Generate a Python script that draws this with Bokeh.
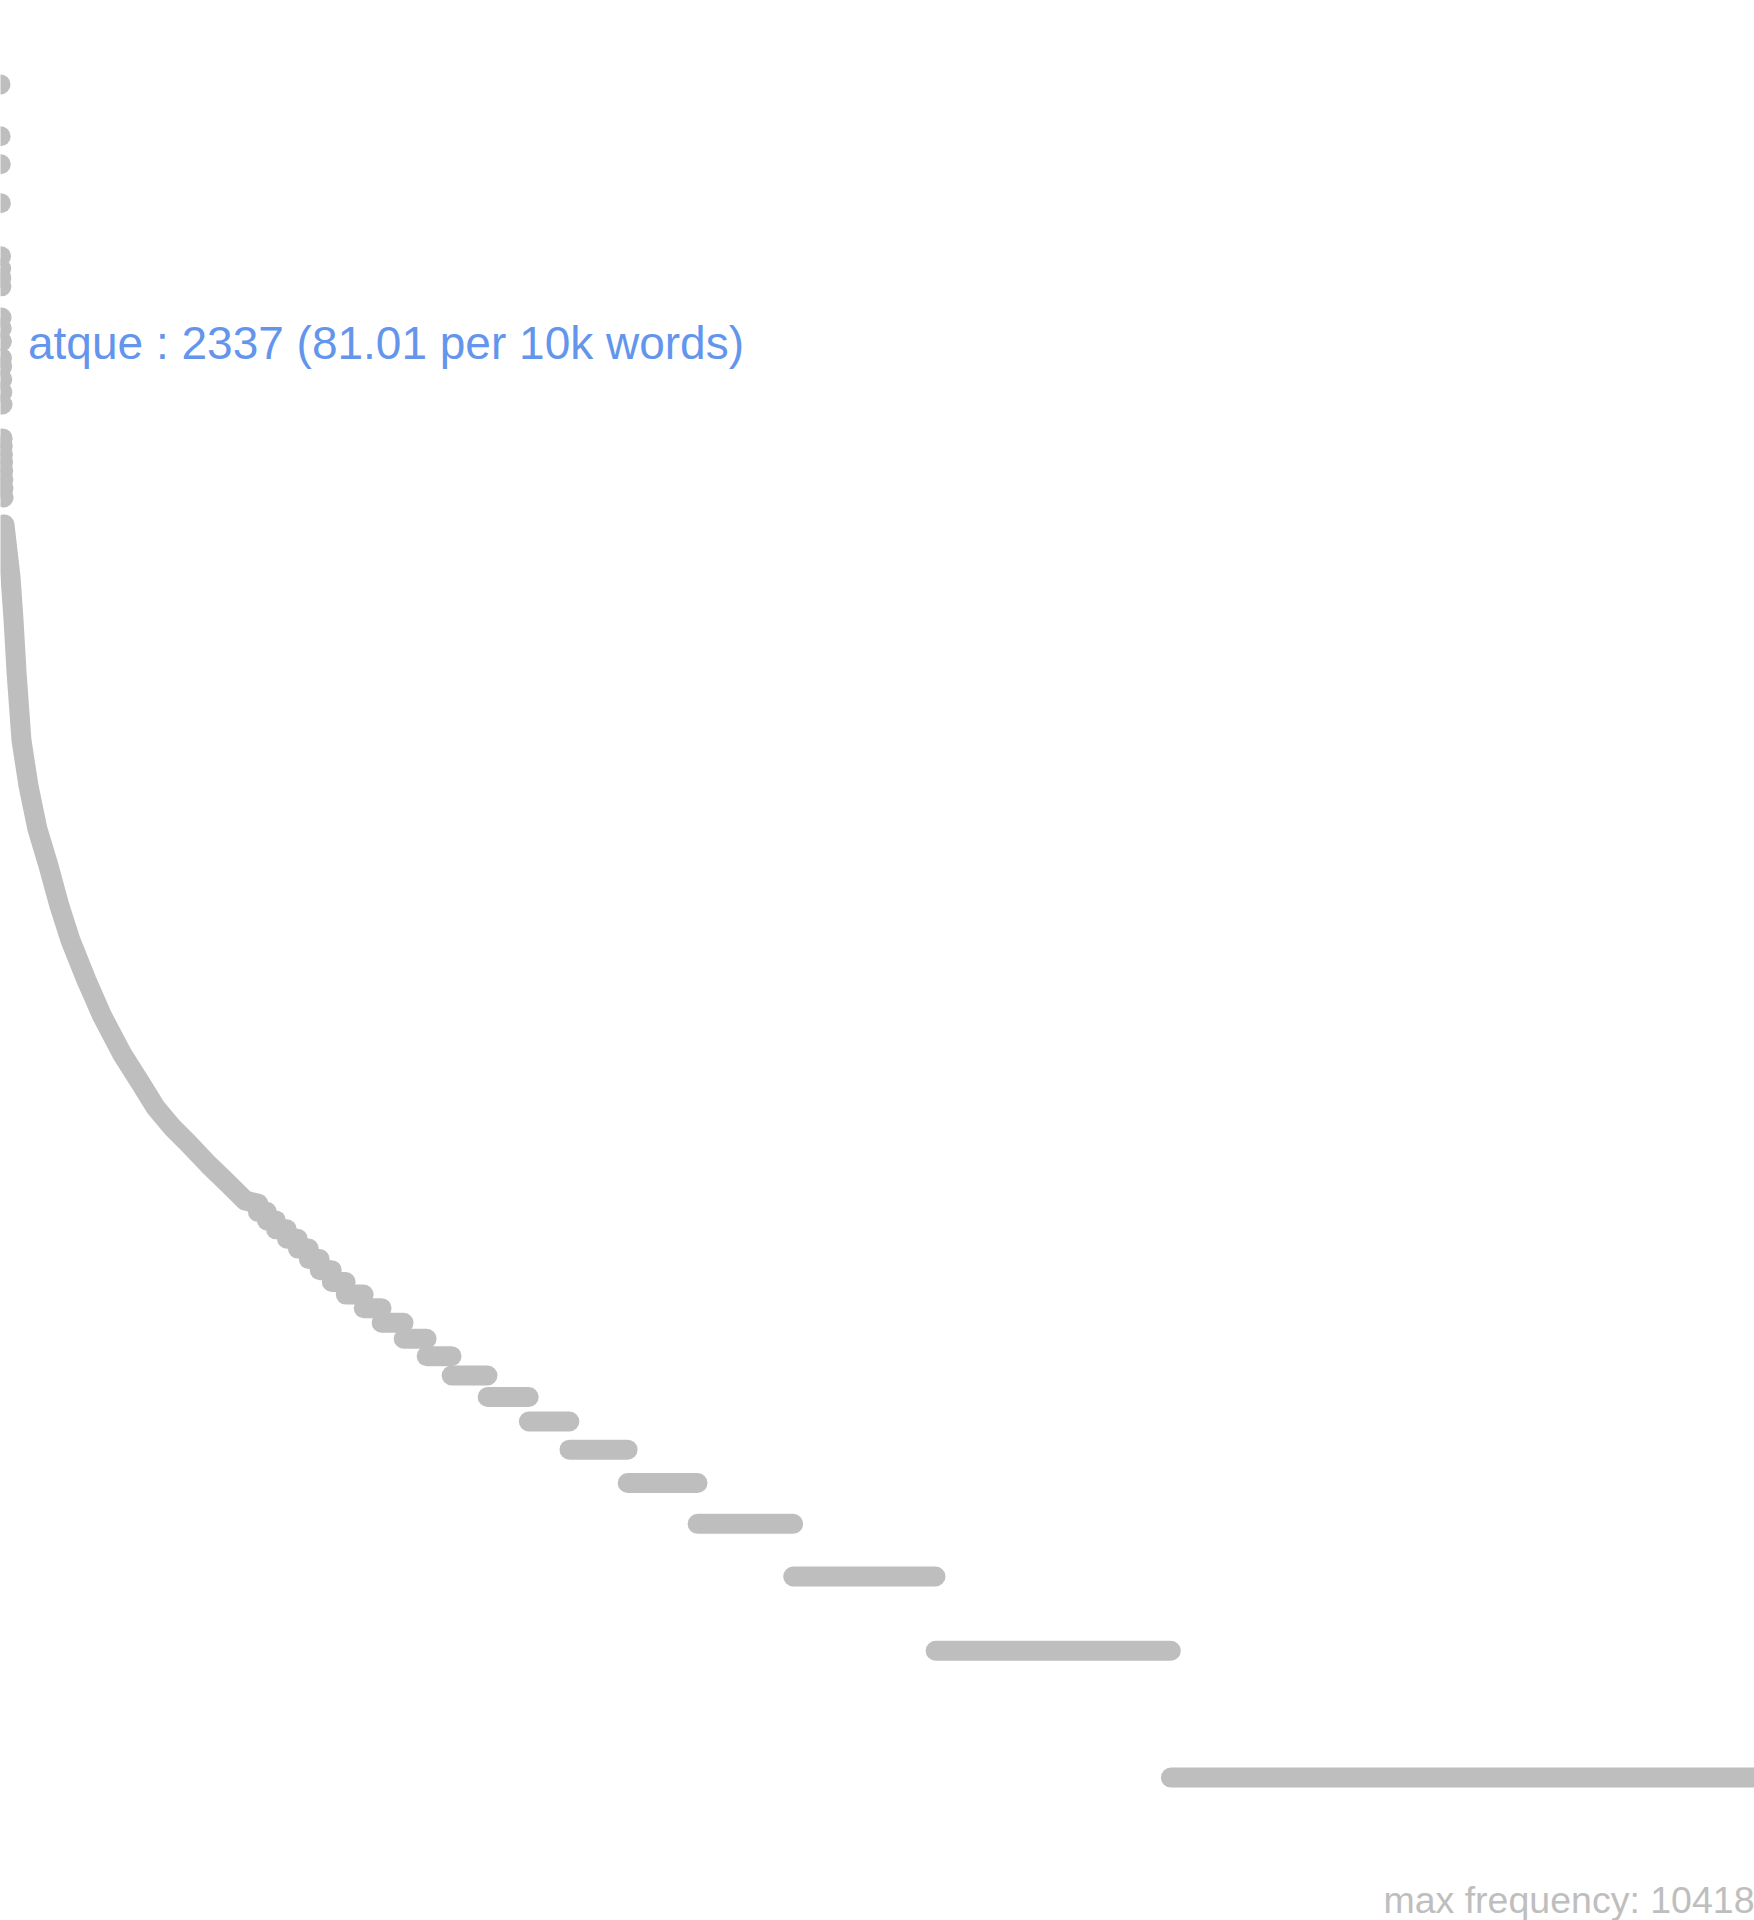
from bokeh.plotting import figure
from bokeh.models import Range1d
from bokeh.embed import file_html
from bokeh.resources import INLINE
from bokeh.core.properties import value

# ---------------- data ----------------
total_types = 12812          # number of distinct words (ranks)
max_frequency = 10418

# most frequent words, rank 1..24
top_freqs = [10418, 7847, 6735, 5443, 4075, 3810, 3620, 3457,
             2916, 2750, 2560, 2337, 2230, 2080, 1940, 1813,
             1506, 1445, 1380, 1320, 1262, 1205, 1148, 1091]

# dense part of the rank/frequency curve
curve_ranks = [30, 74, 96, 118, 154, 205, 271, 351, 432, 512, 629, 745,
               891, 1023, 1132, 1256, 1373, 1519, 1657, 1789, 1884]
curve_freqs = [941, 708, 560, 420, 290, 226, 178, 146, 117, 97, 78, 64,
               52, 44.5, 39, 34.9, 32, 28.5, 25.8, 23.4, 23]

# frequency spectrum of the rare words: frequency -> number of words
spectrum_freq = [22, 21, 20, 19, 18, 17, 16, 15, 14, 13, 12, 11,
                 10, 9, 8, 7, 6, 5, 4, 3, 2, 1]
spectrum_count = [66, 66, 80, 80, 80, 80, 88, 102, 131, 131, 161, 168,
                  182, 263, 301, 297, 425, 511, 698, 1040, 1719, 4263]

label_word = "atque"
label_rank = 12
label_freq = 2337
label_per10k = 81.01

GRAY = "#bebebe"
BLUE = "#6495ed"
FONT = "Liberation Sans"

# ---------------- derived ----------------
top_ranks = list(range(1, len(top_freqs) + 1))

ends = {}
end = total_types
for f, n in sorted(zip(spectrum_freq, spectrum_count)):
    ends[f] = (end - n + 1, end)
    end = end - n
seg_x0 = [ends[f][0] for f in spectrum_freq]
seg_x1 = [ends[f][1] for f in spectrum_freq]

W, H = 1754, 1920
p = figure(width=W, height=H, output_backend="svg", toolbar_location=None,
           x_range=Range1d(1, total_types),
           y_range=Range1d(0.458, 16480), y_axis_type="log",
           min_border=0, min_border_left=0, min_border_right=0,
           min_border_top=0, min_border_bottom=0)
p.xaxis.visible = False
p.yaxis.visible = False
p.grid.visible = False
p.outline_line_color = None
p.background_fill_color = "white"
p.border_fill_color = "white"

p.segment(x0=seg_x0, y0=spectrum_freq, x1=seg_x1, y1=spectrum_freq,
          line_color=GRAY, line_width=20, line_cap="round")
p.line(curve_ranks, curve_freqs, line_color=GRAY, line_width=20,
       line_cap="round", line_join="round")
p.scatter(top_ranks, top_freqs, marker="circle", size=20,
          fill_color=GRAY, line_color=None)

label = f"{label_word} : {label_freq} ({label_per10k:.2f} per 10k words)"
p.text(x=[label_rank], y=[label_freq], text=[label],
       text_color=BLUE, text_font=value(FONT), text_font_size="46px",
       text_align="left", text_baseline="alphabetic",
       x_offset=26, y_offset=-15)

p.text(x=[total_types], y=[p.y_range.start], text=[f"max frequency: {max_frequency}"],
       text_color=GRAY, text_font=value(FONT), text_font_size="37.5px",
       text_align="right", text_baseline="bottom")

open("out.html", "w").write(file_html(p, INLINE))
